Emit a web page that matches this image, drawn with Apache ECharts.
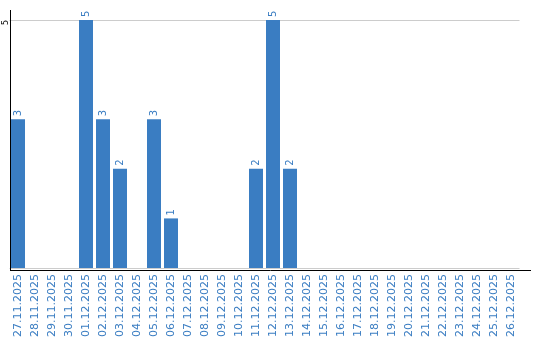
<!DOCTYPE html>
<html><head><meta charset="utf-8">
<script src="https://cdn.jsdelivr.net/npm/echarts@6/dist/echarts.min.js"></script>
<style>html,body{margin:0;padding:0;background:#fff}#c{width:540px;height:340px}</style>
</head><body><div id="c"></div>
<script>
const categories = ["27.11.2025","28.11.2025","29.11.2025","30.11.2025","01.12.2025","02.12.2025","03.12.2025","04.12.2025","05.12.2025","06.12.2025","07.12.2025","08.12.2025","09.12.2025","10.12.2025","11.12.2025","12.12.2025","13.12.2025","14.12.2025","15.12.2025","16.12.2025","17.12.2025","18.12.2025","19.12.2025","20.12.2025","21.12.2025","22.12.2025","23.12.2025","24.12.2025","25.12.2025","26.12.2025"];
const values = [3,0,0,0,5,3,2,0,3,1,0,0,0,0,2,5,2,0,0,0,0,0,0,0,0,0,0,0,0,0];
const yTicks = [5];
const blue = '#3a7dc2';
const chart = echarts.init(document.getElementById('c'));
const L = 9.5, W = 510, T = 20, H = 250;
chart.setOption({
  animation:false,
  grid:{left:L,top:T,width:W,height:H,containLabel:false},
  graphic:[
    {type:'line',z:100,shape:{x1:10,y1:270.5,x2:531,y2:270.5},style:{stroke:'#000',lineWidth:1}},
    {type:'line',z:100,shape:{x1:10.5,y1:10,x2:10.5,y2:271},style:{stroke:'#000',lineWidth:1}}
  ],
  xAxis:{type:'category',data:categories,
    axisLine:{show:false},
    axisTick:{show:false},
    axisLabel:{rotate:90,color:blue,fontSize:11,fontFamily:'DejaVu Sans',margin:6,interval:0}},
  yAxis:{type:'value',min:0,max:5,interval:5,
    axisLine:{show:false},
    axisTick:{show:false},
    splitLine:{lineStyle:{color:'#ccc'}},
    axisLabel:{rotate:90,color:'#000',fontSize:8,fontFamily:'DejaVu Sans',margin:4,
      align:'right',verticalAlign:'middle',padding:[0,0,0,2],
      formatter:v=>yTicks.includes(v)?String(v):''}},
  series:[{type:'bar',data:values,barWidth:14,itemStyle:{color:blue},
    label:{show:true,position:'top',rotate:90,align:'left',verticalAlign:'middle',distance:3,color:blue,fontSize:10,fontFamily:'DejaVu Sans',
      formatter:p=>p.value>0?String(p.value):''}}]
});
</script></body></html>
